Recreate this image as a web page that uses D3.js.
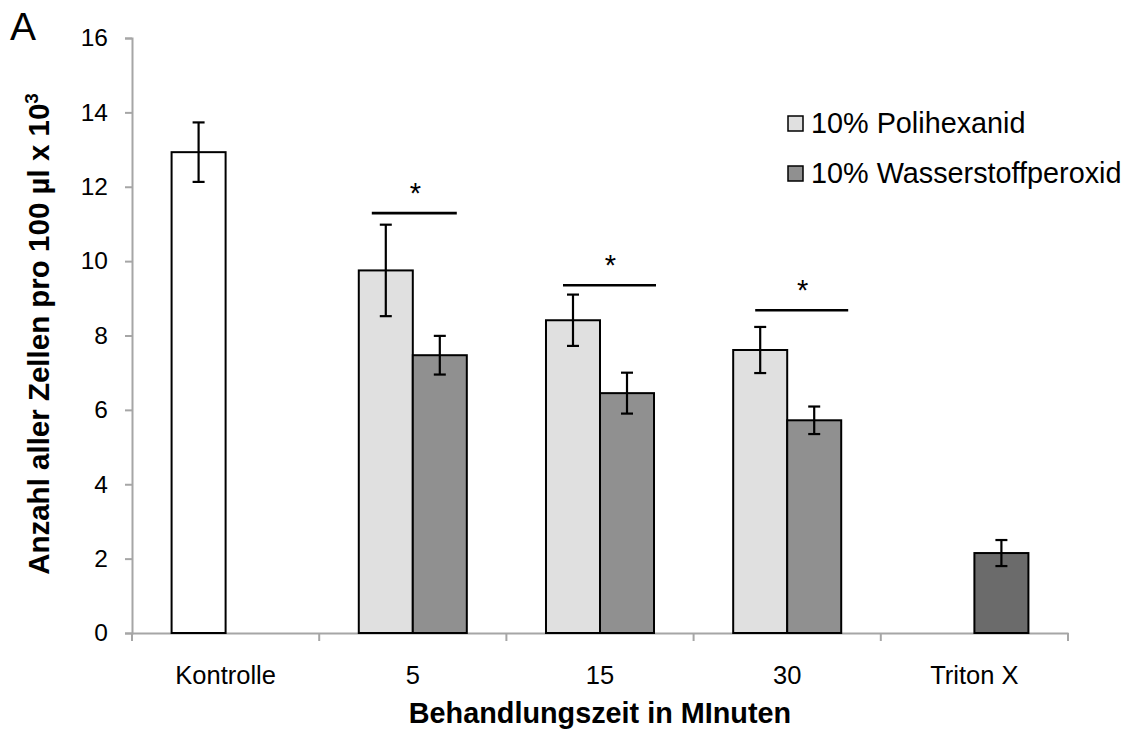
<!DOCTYPE html>
<html><head><meta charset="utf-8">
<script src="https://cdn.jsdelivr.net/npm/d3@7"></script>
<style>body{margin:0;background:#fff}svg{display:block;font-family:"Liberation Sans",Arial,sans-serif}</style>
</head><body><svg id="c" width="1131" height="731"></svg>
<script>
const categories = ["Kontrolle", "5", "15", "30", "Triton X"];
const seriesNames = ["10% Polihexanid", "10% Wasserstoffperoxid"];
// series 0 slot (Kontrolle uses it too), series 1 slot (Triton X uses it too)
const series0Values = [12.93, 9.75, 8.41, 7.61, null];
const series0Errors = [0.8, 1.23, 0.69, 0.62, null];
const series1Values = [null, 7.47, 6.45, 5.72, 2.15];
const series1Errors = [null, 0.52, 0.55, 0.37, 0.35];
const series0Fills = ["#ffffff", "#e0e0e0", "#e0e0e0", "#e0e0e0", "#e0e0e0"];
const series1Fills = ["#909090", "#909090", "#909090", "#909090", "#6b6b6b"];
const legendFills = ["#e0e0e0", "#909090"];
const sigCategories = ["5", "15", "30"];
const sigLevels = [11.29, 9.35, 8.68];
const yTicks = [0, 2, 4, 6, 8, 10, 12, 14, 16];

const svg = d3.select("#c");
const FONT = "Liberation Sans, Arial, sans-serif";
const m = {left: 132, right: 1068, top: 38, bottom: 633};
const x0 = d3.scaleBand().domain(categories).range([m.left, m.right]).padding(0);
const x1 = d3.scaleBand().domain([0, 1]).range([0, x0.bandwidth()]).paddingInner(0).paddingOuter(0.733);
const y = d3.scaleLinear().domain([0, 16]).range([m.bottom, m.top]);

// Y axis
const yAxis = svg.append("g").attr("transform", `translate(${m.left},0)`)
  .call(d3.axisLeft(y).tickValues(yTicks).tickSize(7).tickPadding(17).tickFormat(d3.format("d")));
yAxis.select(".domain").attr("stroke", "#a6a6a6").attr("stroke-width", 2);
yAxis.selectAll(".tick line").attr("stroke", "#a6a6a6").attr("stroke-width", 2);
yAxis.selectAll(".tick text").attr("font-size", 24.5).attr("fill", "#000").attr("font-family", FONT);

// X axis
const xAxis = svg.append("g").attr("transform", `translate(0,${m.bottom})`)
  .call(d3.axisBottom(x0).tickSize(0));
xAxis.select(".domain").attr("stroke", "#a6a6a6").attr("stroke-width", 2);
xAxis.selectAll(".tick text").attr("font-size", 25.5).attr("fill", "#000").attr("font-family", FONT)
  .attr("y", 51).attr("dy", 0);
// boundary ticks between categories
const bounds = categories.map(c => x0(c)).concat([x0(categories[categories.length - 1]) + x0.bandwidth()]);
svg.append("g").selectAll("line").data(bounds).join("line")
  .attr("x1", d => d).attr("x2", d => d).attr("y1", m.bottom).attr("y2", m.bottom + 8)
  .attr("stroke", "#a6a6a6").attr("stroke-width", 2);

// bars
const barData = [];
categories.forEach((c, i) => {
  if (series0Values[i] != null) barData.push({c, s: 0, v: series0Values[i], e: series0Errors[i], fill: series0Fills[i]});
  if (series1Values[i] != null) barData.push({c, s: 1, v: series1Values[i], e: series1Errors[i], fill: series1Fills[i]});
});
const bx = d => x0(d.c) + x1(d.s);
svg.append("g").selectAll("rect").data(barData).join("rect")
  .attr("x", bx).attr("width", x1.bandwidth())
  .attr("y", d => y(d.v)).attr("height", d => y(0) - y(d.v))
  .attr("fill", d => d.fill).attr("stroke", "#000").attr("stroke-width", 2);

// error bars
const eg = svg.append("g").attr("stroke", "#000").attr("stroke-width", 2.2);
barData.forEach(d => {
  const cx = bx(d) + x1.bandwidth() / 2;
  eg.append("line").attr("x1", cx).attr("x2", cx).attr("y1", y(d.v + d.e)).attr("y2", y(d.v - d.e));
  eg.append("line").attr("x1", cx - 6).attr("x2", cx + 6).attr("y1", y(d.v + d.e)).attr("y2", y(d.v + d.e));
  eg.append("line").attr("x1", cx - 6).attr("x2", cx + 6).attr("y1", y(d.v - d.e)).attr("y2", y(d.v - d.e));
});

// significance brackets (horizontal extents relative to category centre)
const sigOffsets = [[-41, 44], [-37, 56], [-32, 61]];
sigCategories.forEach((c, i) => {
  const cx = x0(c) + x0.bandwidth() / 2;
  const [a, b] = sigOffsets[i];
  const ly = y(sigLevels[i]);
  svg.append("line").attr("x1", cx + a).attr("x2", cx + b).attr("y1", ly).attr("y2", ly)
    .attr("stroke", "#000").attr("stroke-width", 2.6);
  svg.append("text").attr("x", cx + (a + b) / 2 + 1).attr("y", ly - 10).attr("text-anchor", "middle")
    .attr("font-size", 29).attr("font-family", FONT).text("*");
});

// legend
const lg = svg.append("g");
seriesNames.forEach((n, i) => {
  const ly = 123 + i * 50;
  lg.append("rect").attr("x", 788).attr("y", ly - 7).attr("width", 15).attr("height", 15)
    .attr("fill", legendFills[i]).attr("stroke", "#000").attr("stroke-width", 1.5);
  lg.append("text").attr("x", 811).attr("y", ly).attr("dy", "0.36em").attr("font-size", 28.8)
    .attr("font-family", FONT).text(n);
});

// titles
svg.append("text").attr("x", (m.left + m.right) / 2).attr("y", 723).attr("text-anchor", "middle")
  .attr("font-size", 28.8).attr("font-weight", "bold").attr("font-family", FONT).text("Behandlungszeit in MInuten");
const yt = svg.append("text").attr("transform", `translate(49,334) rotate(-90)`)
  .attr("text-anchor", "middle").attr("font-size", 29.5).attr("font-weight", "bold").attr("font-family", FONT);
yt.append("tspan").text("Anzahl aller Zellen pro 100 µl x 10");
yt.append("tspan").attr("font-size", 19).attr("dy", "-0.6em").text("3");
svg.append("text").attr("x", 10).attr("y", 40).attr("font-size", 39).attr("font-family", FONT).text("A");
</script></body></html>
